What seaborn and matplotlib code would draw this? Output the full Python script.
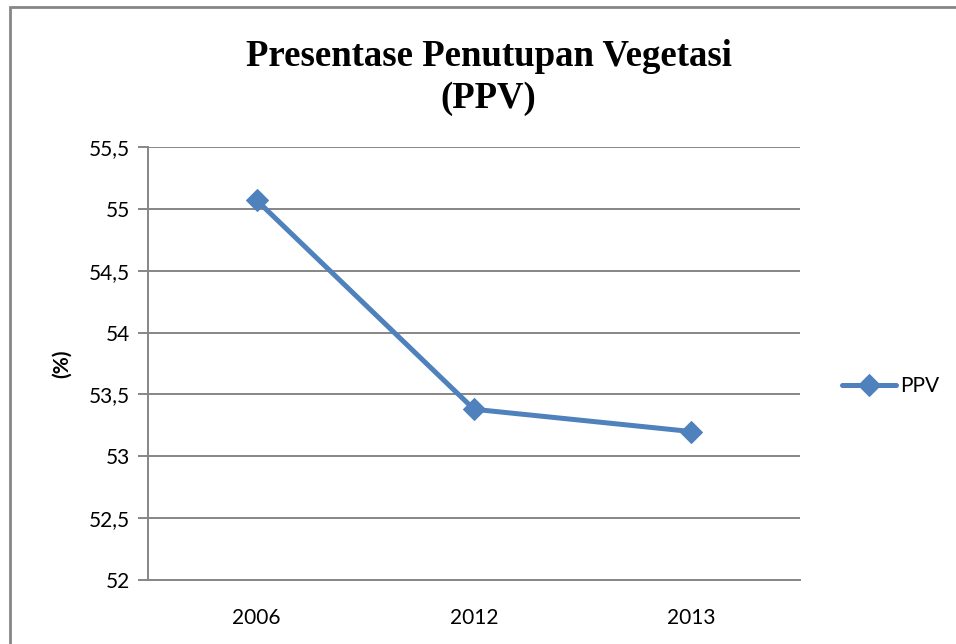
import numpy as np
import pandas as pd
import seaborn as sns
import matplotlib.pyplot as plt
from matplotlib.patches import Rectangle
from matplotlib.ticker import FuncFormatter, FixedLocator

# Data
years = ["2006", "2012", "2013"]
ppv = [55.07, 53.38, 53.20]
series_name = "PPV"

sns.set_theme(style="white")
plt.rcParams['font.family'] = ['Lato', 'DejaVu Sans']
plt.rcParams['text.color'] = 'black'
plt.rcParams['axes.labelcolor'] = 'black'
plt.rcParams['xtick.color'] = 'black'
plt.rcParams['ytick.color'] = 'black'

df = pd.DataFrame({"Tahun": years, "PPV": ppv})

fig = plt.figure(figsize=(9.56, 6.44), dpi=100)
ax = fig.add_axes([0.1548, 0.0994, 0.6820, 0.6723])

blue = "#4F81BD"
grid_c = "#868686"

sns.lineplot(data=df, x="Tahun", y="PPV", ax=ax, color=blue, linewidth=3.6,
             marker="D", markersize=11, markeredgecolor=blue, label=series_name,
             sort=False)

ax.set_xlim(-0.5, len(years) - 0.5)
ax.set_ylim(52, 55.5)
ax.set_yticks(np.arange(52, 55.51, 0.5))
ax.yaxis.set_major_formatter(FuncFormatter(lambda v, p: (f"{v:g}").replace(".", ",")))
ax.yaxis.grid(True, color=grid_c, linewidth=1.4)
ax.set_axisbelow(True)

# x ticks at category boundaries
ax.set_xticks(range(len(years)))
ax.set_xticklabels(years)
ax.xaxis.set_minor_locator(FixedLocator(np.arange(-0.5, len(years), 1.0)))
ax.tick_params(axis="x", which="major", length=0, pad=20, labelsize=15, labelcolor="black")
ax.tick_params(axis="x", which="minor", length=7, width=1.4, color=grid_c, direction="out")
ax.tick_params(axis="y", which="major", length=7, width=1.4, color=grid_c,
               direction="out", left=True, pad=6, labelsize=15, labelcolor="black")

for s in ["top", "right"]:
    ax.spines[s].set_visible(False)
for s in ["left", "bottom"]:
    ax.spines[s].set_color(grid_c)
    ax.spines[s].set_linewidth(1.4)

ax.set_xlabel("")
ax.set_ylabel("(%)", fontsize=15, fontweight="bold", labelpad=12, color="black")

fig.text(0.511, 0.880, "Presentase Penutupan Vegetasi\n(PPV)", ha="center", va="center",
         fontsize=26.5, fontweight="bold", family="Liberation Serif", linespacing=1.25,
         color="black")

leg = ax.legend(loc="center left", bbox_to_anchor=(1.035, 0.448), frameon=False,
                fontsize=15, handlelength=2.6, handletextpad=0.2)

# chart border
fig.patches.append(Rectangle((0.0105, -0.05), 1.2, 1.0385, transform=fig.transFigure,
                             fill=False, edgecolor=grid_c, linewidth=2.0))

fig.savefig("out.png", dpi=100)
